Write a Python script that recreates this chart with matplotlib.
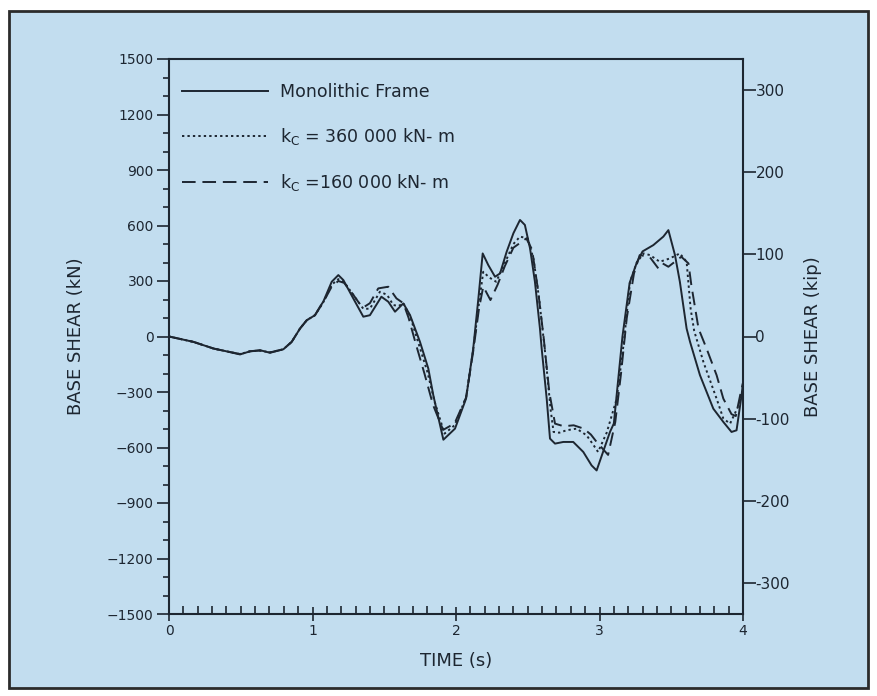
import numpy as np
import matplotlib
matplotlib.use("Agg")
import matplotlib.pyplot as plt
from matplotlib.patches import Rectangle
from matplotlib.ticker import MultipleLocator

# base shear history, kN
t_mono = [0.00, 0.17, 0.31, 0.40, 0.495, 0.565, 0.634, 0.704, 0.797, 0.855, 0.913, 0.96, 1.017,
          1.052, 1.075, 1.134, 1.18, 1.215, 1.284, 1.354, 1.40, 1.48, 1.528, 1.575, 1.633, 1.68,
          1.749, 1.807, 1.842, 1.912, 1.993, 2.07, 2.12, 2.156, 2.186, 2.225, 2.272, 2.307, 2.353,
          2.40, 2.446, 2.48, 2.516, 2.55, 2.585, 2.597, 2.632, 2.655, 2.69, 2.748, 2.817, 2.887,
          2.945, 2.98, 3.073, 3.10, 3.16, 3.21, 3.26, 3.30, 3.375, 3.445, 3.48, 3.526, 3.56, 3.607,
          3.631, 3.70, 3.793, 3.863, 3.92, 3.955, 3.99, 4.0]
v_mono = [0, -29, -65, -80, -97, -80, -74, -88, -69, -29, 43, 88, 115,
          161, 188, 296, 332, 305, 206, 107, 115, 215, 188, 134, 179, 115,
          -29, -173, -318, -558, -498, -336, -65, 206, 449, 386, 323, 341, 458,
          558, 630, 603, 476, 296, 43, -65, -336, -552, -579, -570, -570, -624,
          -697, -724, -516, -470, 0, 290, 400, 460, 494, 540, 575, 440, 296, 43,
          -29, -209, -390, -462, -516, -507, -318, -250]

t_360 = [0.00, 0.17, 0.31, 0.40, 0.495, 0.565, 0.634, 0.704, 0.797, 0.855, 0.913, 0.96, 1.017,
         1.075, 1.134, 1.18, 1.22, 1.284, 1.354, 1.40, 1.47, 1.52, 1.563, 1.60, 1.633, 1.68,
         1.74, 1.80, 1.85, 1.92, 1.99, 2.07, 2.12, 2.16, 2.19, 2.23, 2.28, 2.33, 2.40, 2.446,
         2.50, 2.54, 2.58, 2.62, 2.66, 2.68, 2.72, 2.77, 2.84, 2.91, 2.96, 2.99, 3.05, 3.12,
         3.17, 3.213, 3.26, 3.307, 3.352, 3.42, 3.49, 3.56, 3.607, 3.635, 3.66, 3.725, 3.816,
         3.863, 3.91, 3.97, 4.0]
v_360 = [0, -29, -65, -80, -95, -80, -76, -86, -69, -29, 43, 88, 115,
         185, 280, 310, 295, 225, 150, 150, 242, 225, 170, 165, 180, 110,
         -40, -190, -350, -525, -480, -330, -70, 180, 350, 320, 296, 380, 500, 540,
         530, 420, 200, -80, -400, -516, -520, -507, -498, -534, -589, -624, -520, -336,
         -29, 296, 400, 449, 440, 404, 422, 449, 404, 150, 30, -140, -336,
         -444, -471, -372, -291]

t_160 = [0.00, 0.17, 0.31, 0.40, 0.495, 0.565, 0.634, 0.704, 0.797, 0.855, 0.913, 0.96, 1.017,
         1.075, 1.134, 1.18, 1.22, 1.28, 1.33, 1.36, 1.40, 1.458, 1.528, 1.585, 1.633, 1.67,
         1.72, 1.78, 1.84, 1.91, 1.99, 2.07, 2.12, 2.16, 2.19, 2.24, 2.29, 2.34, 2.40, 2.49,
         2.53, 2.57, 2.61, 2.65, 2.69, 2.75, 2.82, 2.89, 2.94, 2.98, 3.06, 3.11, 3.15, 3.19,
         3.24, 3.28, 3.35, 3.41, 3.44, 3.48, 3.57, 3.62, 3.64, 3.69, 3.746, 3.816, 3.863, 3.92,
         3.95, 3.98, 4.0]
v_160 = [0, -29, -65, -80, -95, -80, -76, -86, -69, -29, 43, 88, 115,
         185, 270, 300, 290, 230, 175, 160, 180, 260, 269, 206, 180, 100,
         -40, -200, -370, -505, -470, -330, -80, 150, 270, 197, 280, 380, 480, 530,
         470, 260, 0, -300, -471, -485, -480, -498, -530, -570, -640, -462, -200, 100,
         340, 440, 430, 368, 395, 377, 431, 395, 278, 43, -65, -209, -336, -420,
         -430, -318, -250]

labels = ["Monolithic Frame",
          r"k$_{\mathregular{C}}$ = 360 000 kN- m",
          r"k$_{\mathregular{C}}$ =160 000 kN- m"]
kn_ticks = [-1500, -1200, -900, -600, -300, 0, 300, 600, 900, 1200, 1500]
kip_ticks = [-300, -200, -100, 0, 100, 200, 300]
KIP = 4.448

ink = "#1d2631"
panel = "#c2ddef"

plt.rcParams["font.family"] = ["DejaVu Sans"]
fig = plt.figure(figsize=(8.77, 6.96), dpi=100, facecolor="white")
fig.patches.append(Rectangle((9 / 877, 1 - 688 / 696), 859 / 877, 677 / 696,
                             transform=fig.transFigure, facecolor=panel,
                             edgecolor="#2b2b2b", lw=2, zorder=-5))

ax = fig.add_axes([169 / 877, 1 - 614 / 696, 574 / 877, 555 / 696])
ax.set_facecolor("none")
ax.plot(t_mono, v_mono, color=ink, lw=1.4, ls="-", label=labels[0])
ax.plot(t_360, v_360, color=ink, lw=1.4, ls=(0, (1.2, 1.6)), label=labels[1])
ax.plot(t_160, v_160, color=ink, lw=1.4, ls=(0, (7, 3.5)), label=labels[2])

ax.set_xlim(0, 4)
ax.set_ylim(-1500, 1500)
ax.set_yticks(kn_ticks)
ax.set_yticklabels([str(v).replace("-", "\u2212") for v in kn_ticks])
ax.yaxis.set_minor_locator(MultipleLocator(100))
ax.xaxis.set_major_locator(MultipleLocator(1))
ax.xaxis.set_minor_locator(MultipleLocator(0.1))
ax.tick_params(axis="y", which="major", direction="out", length=9, width=1.2,
               color=ink, labelsize=10, labelcolor=ink, pad=2)
ax.tick_params(axis="y", which="minor", direction="out", length=4.5, width=1.2, color=ink)
ax.tick_params(axis="x", which="major", direction="inout", length=10, width=1.2,
               color=ink, labelsize=10, labelcolor=ink, pad=2)
ax.tick_params(axis="x", which="minor", direction="in", length=5.5, width=1.2, color=ink)
ax.tick_params(top=False, right=False)
for side, sp in ax.spines.items():
    sp.set_color(ink)
    sp.set_linewidth(1.5)

ax.set_xlabel("TIME (s)", fontsize=13, color=ink, labelpad=10)
ax.set_ylabel("BASE SHEAR (kN)", fontsize=13, color=ink, labelpad=16)

ax2 = ax.twinx()
ax2.set_ylim(-1500 / KIP, 1500 / KIP)
ax2.set_yticks(kip_ticks)
ax2.set_yticklabels([str(v) for v in kip_ticks])
ax2.tick_params(axis="y", direction="out", length=9, width=1.2, color=ink,
                labelsize=11, labelcolor=ink, pad=0)
for sp in ax2.spines.values():
    sp.set_visible(False)
ax2.set_ylabel("BASE SHEAR (kip)", fontsize=13, color=ink, labelpad=10)

leg = ax.legend(loc="upper left", bbox_to_anchor=(0.022, 0.956), frameon=False,
                fontsize=12.5, handlelength=5.0, handletextpad=0.65,
                labelspacing=1.42, borderpad=0, borderaxespad=0)
for txt in leg.get_texts():
    txt.set_color(ink)

fig.savefig("out.png", dpi=100, facecolor="white")
